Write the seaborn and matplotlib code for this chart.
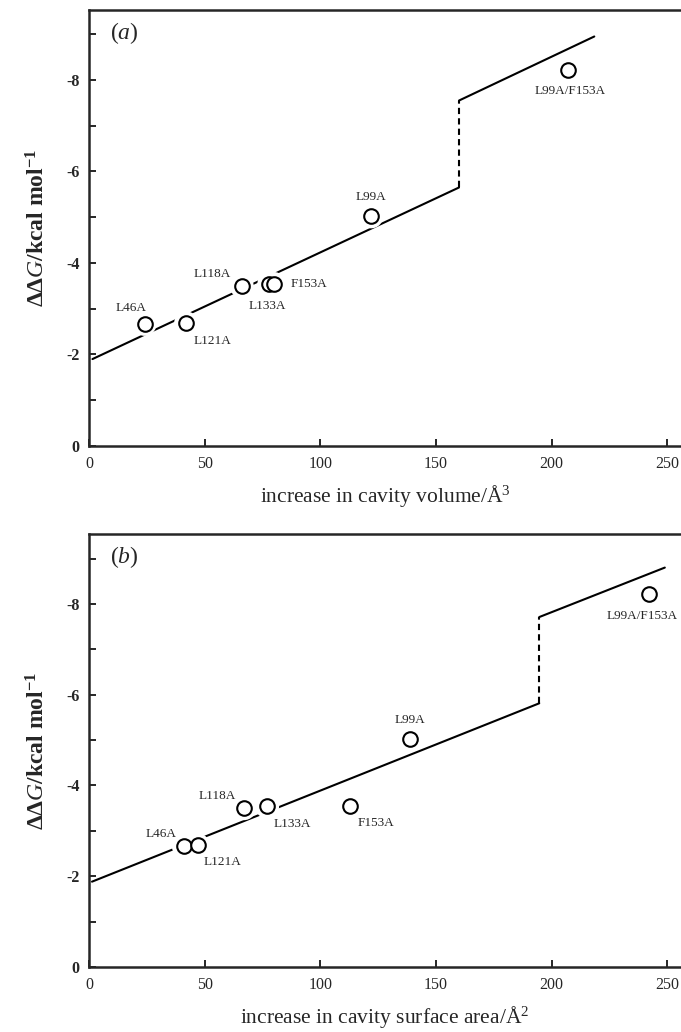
import matplotlib
matplotlib.use("Agg")
import matplotlib.pyplot as plt
from matplotlib.ticker import MultipleLocator
import pandas as pd
import seaborn as sns

# mutants and their measured destabilisation
mutants = ["L46A", "L121A", "L118A", "L133A", "F153A", "L99A", "L99A/F153A"]
ddg = [-2.67, -2.68, -3.50, -3.54, -3.54, -5.02, -8.22]
vol_increase = [24, 42, 66, 78, 80, 122, 207]
area_increase = [41, 47, 67, 77, 113, 139, 242]

# fitted lines (lower branch, upper branch) for each panel
vol_low_x = [1.5, 160]
vol_low_y = [-1.9, -5.65]
vol_high_x = [160, 218.5]
vol_high_y = [-7.55, -8.95]
area_low_x = [1.3, 194.7]
area_low_y = [-1.88, -5.81]
area_high_x = [194.7, 249]
area_high_y = [-7.71, -8.80]

# label offsets in points (dx, dy)
vol_offsets = [(-10, 11.5), (19, -12.5), (-21, 8.5), (-1.5, -15.5), (25, 0), (0, 14), (1.5, -15)]
area_offsets = [(-16.7, 8.2), (17.8, -11.8), (-19.5, 8.9), (18.5, -12.5), (18.3, -11.8), (0, 13.5), (-5, -16)]

sns.set_theme(style="ticks")
plt.rcParams["font.family"] = ["Liberation Serif", "DejaVu Serif"]
plt.rcParams["mathtext.fontset"] = "custom"
plt.rcParams["mathtext.rm"] = "Liberation Serif"
plt.rcParams["mathtext.it"] = "Liberation Serif:italic"
plt.rcParams["mathtext.bf"] = "Liberation Serif:bold"
plt.rcParams["axes.unicode_minus"] = False

fig = plt.figure(figsize=(6.81, 10.32), dpi=100)
ax_a = fig.add_axes([89 / 681, 1 - 446 / 1032, 1 - 89 / 681, 436.5 / 1032])
ax_b = fig.add_axes([89 / 681, 1 - 967 / 1032, 1 - 89 / 681, 433 / 1032])


def draw_panel(ax, xvals, low_x, low_y, high_x, high_y, offsets, tag, xlabel):
    pts = pd.DataFrame({"x": xvals, "ddg": ddg, "mutant": mutants})
    fit = pd.DataFrame({"x": low_x + high_x, "y": low_y + high_y,
                        "branch": ["low", "low", "high", "high"]})
    jump = pd.DataFrame({"x": [low_x[1], high_x[0]], "y": [low_y[1], high_y[0]]})

    sns.lineplot(data=fit, x="x", y="y", units="branch", estimator=None, sort=False,
                 color="black", linewidth=1.5, ax=ax, zorder=1)
    sns.lineplot(data=jump, x="x", y="y", estimator=None, sort=False, color="black",
                 linewidth=1.5, linestyle=(0, (3, 2)), ax=ax, zorder=1)
    # white halo so the line breaks around each circle
    sns.scatterplot(data=pts, x="x", y="ddg", s=300, color="white", edgecolor="none",
                    ax=ax, zorder=2, legend=False)
    sns.scatterplot(data=pts, x="x", y="ddg", s=110, facecolor="white", edgecolor="black",
                    linewidth=1.5, ax=ax, zorder=3, legend=False)
    for (_, row), off in zip(pts.iterrows(), offsets):
        ax.annotate(row["mutant"], (row["x"], row["ddg"]), xytext=off,
                    textcoords="offset points", ha="center", va="center",
                    fontsize=9.5, zorder=4)

    ax.text(0.059, 0.947, f"($\\mathit{{{tag}}}$)", transform=ax.transAxes,
            ha="center", va="center", fontsize=17)

    ax.set_xlim(0, 256)
    ax.set_ylim(0, -9.54)
    ax.xaxis.set_major_locator(MultipleLocator(50))
    ax.yaxis.set_major_locator(MultipleLocator(2))
    ax.yaxis.set_minor_locator(MultipleLocator(1))
    ax.tick_params(direction="in", length=5, width=1.4, labelsize=11.5, pad=7)
    ax.tick_params(which="minor", direction="in", length=5, width=1.4)
    for lab in ax.get_yticklabels():
        lab.set_fontweight("bold")
    ax.spines["right"].set_visible(False)
    for side in ["left", "top", "bottom"]:
        ax.spines[side].set_linewidth(1.8)
    ax.set_xlabel(xlabel, fontsize=15.5, labelpad=8)
    ax.set_ylabel(r"$\mathbf{\Delta\Delta}\mathit{G}$/kcal mol$^{\mathbf{-1}}$",
                  fontsize=17, fontweight="bold", labelpad=12)


draw_panel(ax_a, vol_increase, vol_low_x, vol_low_y, vol_high_x, vol_high_y,
           vol_offsets, "a", "increase in cavity volume/Å$^3$")
draw_panel(ax_b, area_increase, area_low_x, area_low_y, area_high_x, area_high_y,
           area_offsets, "b", "increase in cavity surface area/Å$^2$")

fig.savefig("out.png", dpi=100)
